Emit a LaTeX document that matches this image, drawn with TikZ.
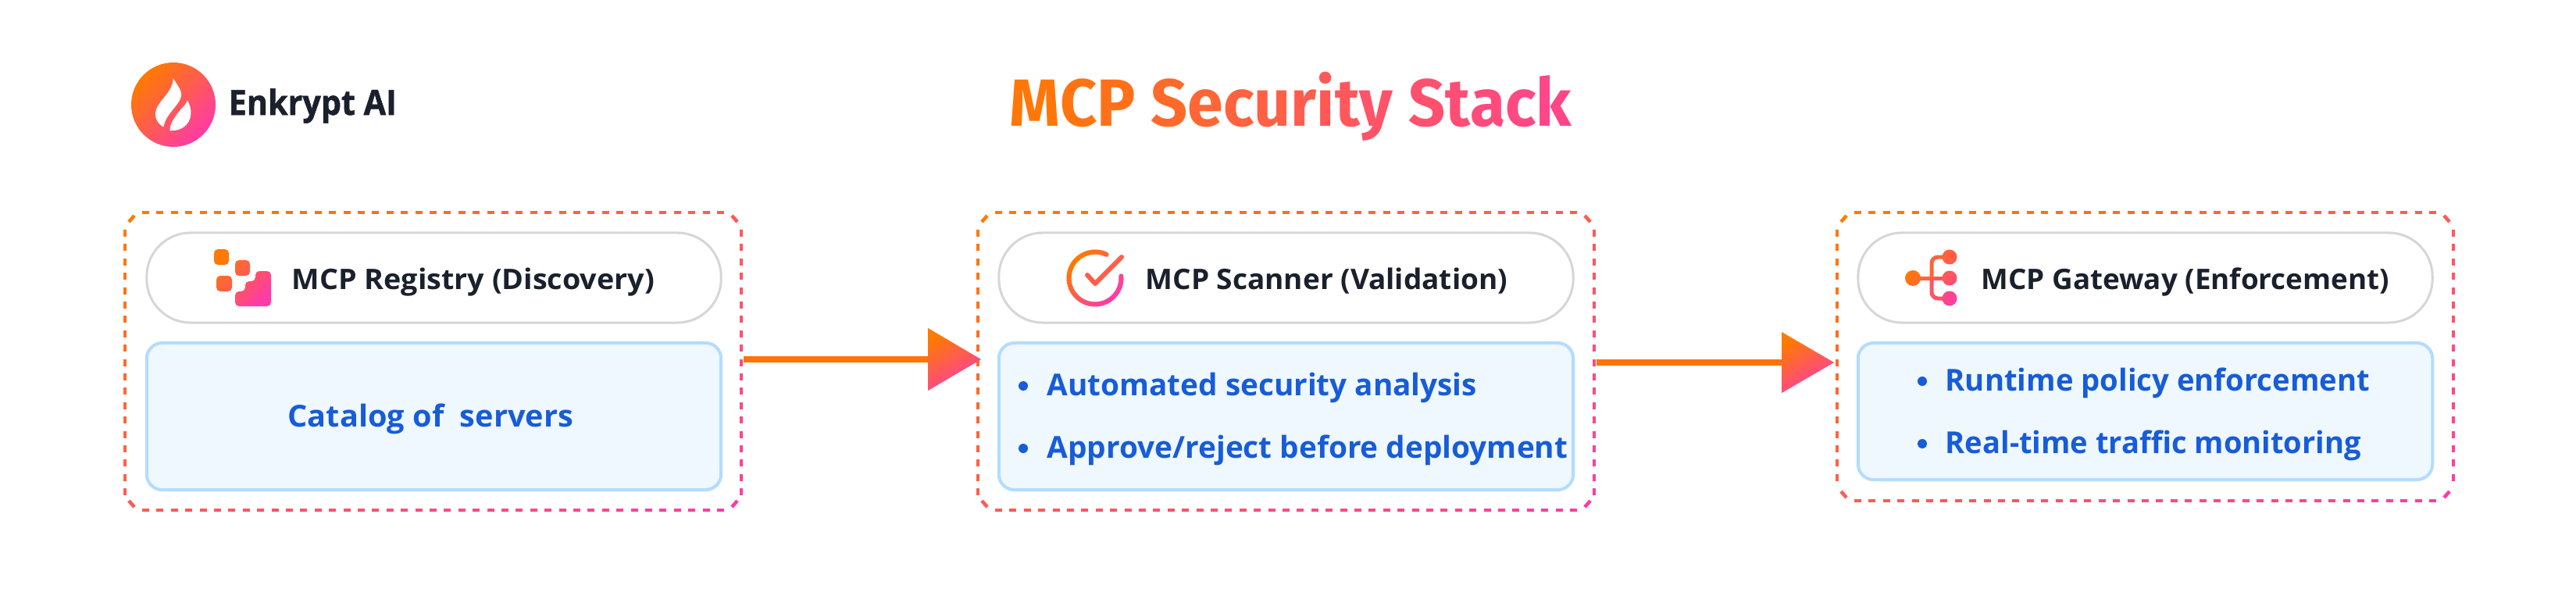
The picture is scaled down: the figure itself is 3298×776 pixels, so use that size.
\documentclass[tikz,border=0pt]{standalone}
\usepackage{fontspec}
\setmainfont{Open Sans}
\newfontfamily\labelfont{Open Sans}[UprightFont={* Bold}]
\newfontfamily\brandfont{Open Sans}[UprightFont={* Bold},UprightFeatures={FakeBold=1.2}]
\newfontfamily\titlefont{Fira Sans}
\definecolor{gradA}{HTML}{FF7A00}
\definecolor{gradB}{HTML}{FF3BA7}
\definecolor{inkdark}{HTML}{1A202C}
\definecolor{inkblue}{HTML}{175CD8}
\definecolor{paleblue}{HTML}{EFF7FF}
\definecolor{edgeblue}{HTML}{B3DCFF}
\definecolor{edgegray}{HTML}{D6D6DA}
\definecolor{flowline}{HTML}{FF7308}
% squeeze a text to a given width, keeping its height
\newcommand{\fitw}[2]{\resizebox{#1}{\height}{#2}}
\newcommand{\tl}[2]{\textcolor{gradB!#1!gradA}{#2}}
% dashed frame with the colour running from top left to bottom right
\newcommand{\gradframe}[4]{%
  \pgfmathsetmacro{\fw}{#3-#1}
  \pgfmathsetmacro{\fh}{#4-#2}
  \pgfmathtruncatemacro{\nx}{(\fw-44)/18.4}
  \pgfmathtruncatemacro{\ny}{(\fh-44)/18.4}
  \foreach \i in {0,...,\nx} {
    \pgfmathsetmacro{\dx}{22+18.4*\i}
    \pgfmathtruncatemacro{\pa}{50*(\dx/\fw)}
    \pgfmathtruncatemacro{\pb}{50+50*(\dx/\fw)}
    \draw[framedash,draw=gradB!\pa!gradA] (#1+\dx,#2) -- +(9,0);
    \draw[framedash,draw=gradB!\pb!gradA] (#1+\dx,#4) -- +(9,0);
  }
  \foreach \i in {0,...,\ny} {
    \pgfmathsetmacro{\dy}{22+18.4*\i}
    \pgfmathtruncatemacro{\pa}{50*(\dy/\fh)}
    \pgfmathtruncatemacro{\pb}{50+50*(\dy/\fh)}
    \draw[framedash,draw=gradB!\pa!gradA] (#1,#2+\dy) -- +(0,9);
    \draw[framedash,draw=gradB!\pb!gradA] (#3,#2+\dy) -- +(0,9);
  }
  \draw[framedash,draw=gradA] (#1+5,#2+12) -- (#1+12,#2+4);
  \draw[framedash,draw=gradB!50!gradA] (#3-12,#2+4) -- (#3-5,#2+12);
  \draw[framedash,draw=gradB!50!gradA] (#1+5,#4-12) -- (#1+12,#4-4);
  \draw[framedash,draw=gradB] (#3-12,#4-4) -- (#3-5,#4-12);
}
\tikzset{
  framedash/.style={line width=0.045cm},
  framebox/.style={inner sep=0pt,minimum width=7.89cm},
  headpill/.style={draw=edgegray,line width=0.03cm,fill=white,rounded corners=0.56cm,
    minimum width=7.35cm,minimum height=1.15cm,inner sep=0pt},
  bodybox/.style={draw=edgeblue,line width=0.04cm,fill=paleblue,rounded corners=0.2cm,
    minimum width=7.35cm,inner sep=0pt},
  headtext/.style={anchor=base west,inner sep=0pt,text=inkdark,font=\labelfont\fontsize{10.3pt}{12pt}\selectfont},
  bodytext/.style={anchor=base west,inner sep=0pt,text=inkblue,font=\labelfont\fontsize{11pt}{13pt}\selectfont},
  bulletdot/.style={circle,fill=inkblue,minimum size=0.12cm,inner sep=0pt},
  flowshaft/.style={draw=flowline,line width=0.08cm},
  gradfill/.style={top color=gradA,bottom color=gradB,shading angle=45},
  headfill/.style={top color=gradA,bottom color=gradB,shading angle=30},
}
\begin{document}
\begin{tikzpicture}[x=0.01cm,y=-0.01cm]
    \useasboundingbox (0,0) rectangle (3298,776);
    % logo
    \shade[gradfill] (222,134) circle[radius=54];
    \fill[white] (221.7,100) .. controls (226,108) and (234,116) .. (231.7,124)
        .. controls (230,134) and (212,146) .. (209.3,162.7)
        .. controls (202,158) and (198,152) .. (199.3,143)
        .. controls (201,130) and (222,118) .. cycle;
    \fill[white] (240,128.3) .. controls (243,134) and (245,140) .. (244.3,146.7)
        .. controls (243,160) and (232,168) .. (217.3,167.3)
        .. controls (218,158) and (222,152) .. (229,143)
        .. controls (234,137) and (238,134) .. cycle;
    \node[anchor=base west,inner sep=0pt,text=inkdark,font=\brandfont\fontsize{12.6pt}{14pt}\selectfont] (brand) at (292,147) {\fitw{2.15cm}{Enkrypt AI}};
    % title, letter by letter
    \node[anchor=base west,inner sep=0pt,font=\titlefont\bfseries\fontsize{24.3pt}{28pt}\selectfont] (title) at (1292,162)
        {\fitw{7.19cm}{\tl{5}{M}\tl{10}{C}\tl{16}{P} \tl{25}{S}\tl{32}{e}\tl{38}{c}\tl{42}{u}\tl{48}{r}\tl{52}{i}\tl{55}{t}\tl{62}{y} \tl{66}{S}\tl{70}{t}\tl{74}{a}\tl{78}{c}\tl{82}{k}}};
    % frames
    \node[framebox,minimum height=3.81cm] (regframe) at (554.5,462.5) {};
    \node[framebox,minimum height=3.81cm] (scanframe) at (1646.5,462.5) {};
    \node[framebox,minimum height=3.69cm] (gateframe) at (2746.5,456.5) {};
    \gradframe{160}{272}{949}{653}
    \gradframe{1252}{272}{2041}{653}
    \gradframe{2352}{272}{3141}{641}
    % pills
    \node[headpill] (regpill) at (555.5,355.5) {};
    \node[headpill] (scanpill) at (1646.5,355.5) {};
    \node[headpill] (gatepill) at (2746.5,355.5) {};
    \node[headtext] (reghead) at (373,370.5) {\fitw{4.64cm}{MCP Registry (Discovery)}};
    \node[headtext] (scanhead) at (1466,370.5) {\fitw{4.63cm}{MCP Scanner (Validation)}};
    \node[headtext] (gatehead) at (2536,370.5) {\fitw{5.22cm}{MCP Gateway (Enforcement)}};
    % body boxes
    \node[bodybox,minimum height=1.88cm] (regbody) at (555.5,533) {};
    \node[bodybox,minimum height=1.88cm] (scanbody) at (1646.5,533) {};
    \node[bodybox,minimum height=1.75cm] (gatebody) at (2746.5,526.5) {};
    \node[bodytext] (regtext) at (368,546.5) {\fitw{3.65cm}{Catalog of\ \ servers}};
    \node[bulletdot] (scandota) at (1310,494) {};
    \node[bodytext] (scantexta) at (1340,506.5) {\fitw{5.50cm}{Automated security analysis}};
    \node[bulletdot] (scandotb) at (1310,574) {};
    \node[bodytext] (scantextb) at (1340,586.5) {\fitw{6.66cm}{Approve/reject before deployment}};
    \node[bulletdot] (gatedota) at (2461,488) {};
    \node[bodytext] (gatetexta) at (2490,500.5) {\fitw{5.43cm}{Runtime policy enforcement}};
    \node[bulletdot] (gatedotb) at (2461,568) {};
    \node[bodytext] (gatetextb) at (2490,580.5) {\fitw{5.32cm}{Real-time traffic monitoring}};
    % registry icon
    \shade[gradfill,rounded corners=0.05cm] (274,319) rectangle (293,339) (301,333) rectangle (320,353) (277,353) rectangle (297,373)
        (327,347) -- (347,347) -- (347,392) -- (301,392) -- (301,373) -- (314,373) -- (314,360) -- (327,360) -- cycle;
    % scanner icon
    \foreach \a in {64,70,...,362} {
        \pgfmathtruncatemacro{\pct}{50+35*cos(\a)-35*sin(\a)}
        \draw[line width=0.06cm,line cap=round,draw=gradB!\pct!gradA] (1402,356) ++(-\a:33.5) arc[start angle=-\a,delta angle=-6.5,radius=33.5];
    }
    \draw[line width=0.06cm,line cap=round,line join=round,draw=gradB!45!gradA] (1392,352) -- (1402,363) -- (1436,329);
    % gateway icon
    \draw[line width=0.05cm,draw=gradB!30!gradA] (2449,356) -- (2473,356);
    \draw[line width=0.05cm,draw=gradB!50!gradA] (2473,356) -- (2496,356);
    \draw[line width=0.05cm,draw=gradB!35!gradA,rounded corners=0.08cm] (2496,329) -- (2473,329) -- (2473,356);
    \draw[line width=0.05cm,draw=gradB!62!gradA,rounded corners=0.08cm] (2473,356) -- (2473,382) -- (2496,382);
    \shade[top color=gradA,bottom color=gradB!30!gradA,shading angle=45] (2449,356) circle[radius=10];
    \shade[top color=gradB!35!gradA,bottom color=gradB!50!gradA,shading angle=45] (2496,329) circle[radius=9.5];
    \shade[top color=gradB!50!gradA,bottom color=gradB!75!gradA,shading angle=45] (2496,356) circle[radius=9.5];
    \shade[top color=gradB!80!gradA,bottom color=gradB,shading angle=45] (2496,382) circle[radius=9.5];
    % flows
    \path (regframe.east) ++(2,-2.5) coordinate (regstart);
    \path (scanframe.west) ++(5,-2.5) coordinate (regtip);
    \path (regtip) ++(-68,0) coordinate (regbase);
    \draw[flowshaft] (regstart) -- (regbase);
    \shade[headfill] (regtip) -- ([yshift=0.4cm]regbase) -- ([yshift=-0.4cm]regbase) -- cycle;
    \path (scanframe.east) ++(2,1.5) coordinate (scanstart);
    \path (gateframe.west) ++(-3,7.5) coordinate (scantip);
    \path (scantip) ++(-67,0) coordinate (scanbase);
    \draw[flowshaft] (scanstart) -- (scanbase);
    \shade[headfill] (scantip) -- ([yshift=0.39cm]scanbase) -- ([yshift=-0.39cm]scanbase) -- cycle;
\end{tikzpicture}
\end{document}
